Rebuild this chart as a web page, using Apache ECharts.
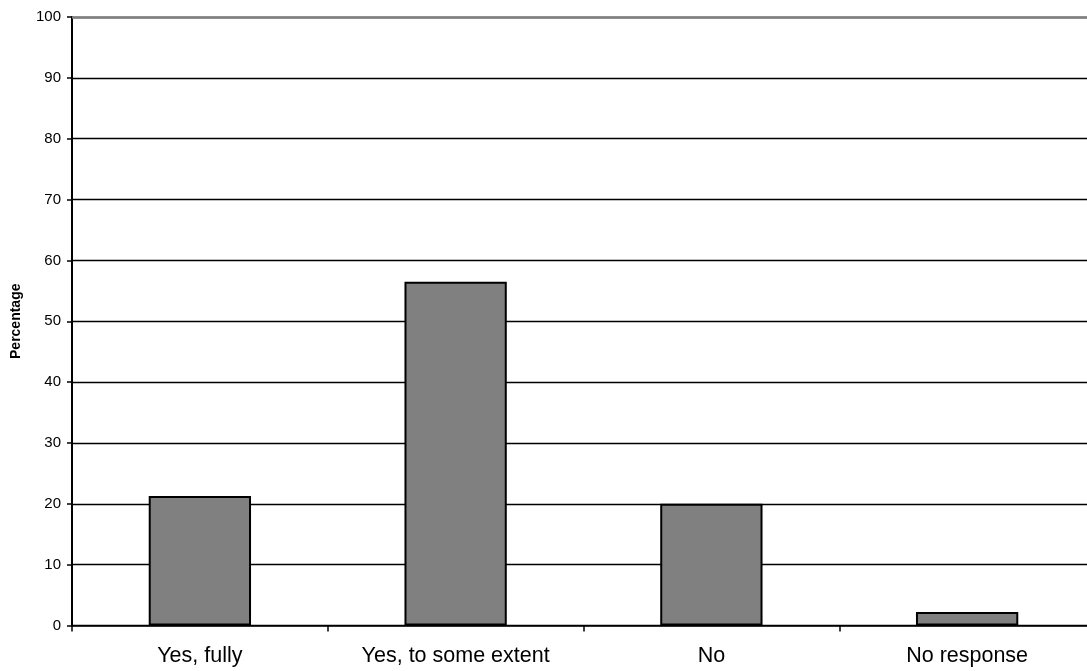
<!DOCTYPE html>
<html><head><meta charset="utf-8">
<script src="https://cdn.jsdelivr.net/npm/echarts@6/dist/echarts.min.js"></script>
<style>html,body{margin:0;padding:0;background:#fff}#c{width:1087px;height:671px}</style>
</head><body><div id="c"></div>
<script>
const categories = ["Yes, fully", "Yes, to some extent", "No", "No response"];
const values = [21.3, 56.5, 20.0, 2.2];
const yTicks = [0, 10, 20, 30, 40, 50, 60, 70, 80, 90, 100];

const FONT = 'Liberation Sans, Arial, sans-serif';
const chart = echarts.init(document.getElementById('c'), null, {renderer: 'canvas'});
chart.setOption({
  animation: false,
  backgroundColor: '#fff',
  textStyle: {fontFamily: FONT},
  grid: {left: 72, top: 17, width: 1023, height: 608.5, containLabel: false, outerBoundsMode: 'none'},
  xAxis: {
    type: 'category',
    data: categories,
    axisLine: {lineStyle: {color: '#000', width: 1.5}},
    axisTick: {show: true, length: 6, lineStyle: {color: '#000', width: 1.5}},
    axisLabel: {color: '#000', fontSize: 21.5, margin: 20, fontFamily: FONT}
  },
  yAxis: {
    type: 'value',
    min: yTicks[0], max: yTicks[yTicks.length - 1], interval: 10,
    name: 'Percentage',
    nameLocation: 'middle',
    nameGap: 49,
    nameRotate: 90,
    nameTextStyle: {color: '#000', fontSize: 14, fontWeight: 'bold', fontFamily: FONT},
    axisLine: {show: true, lineStyle: {color: '#000', width: 2}},
    axisTick: {show: true, length: 5, lineStyle: {color: '#000', width: 1.5}},
    axisLabel: {color: '#000', fontSize: 15, margin: 11, fontFamily: FONT},
    splitLine: {show: true, lineStyle: {color: '#000', width: 1.3}}
  },
  series: [{
    type: 'bar',
    data: values,
    barWidth: '40%',
    itemStyle: {color: '#808080', borderColor: '#000', borderWidth: 2},
    markLine: {
      silent: true, symbol: 'none', label: {show: false},
      lineStyle: {color: '#808080', width: 2.5, type: 'solid'},
      data: [{yAxis: 100}]
    }
  }]
});
</script></body></html>
